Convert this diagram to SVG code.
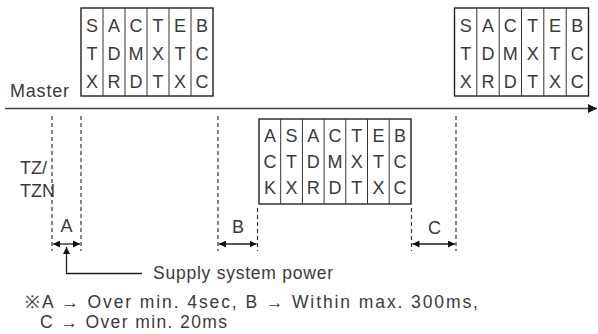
<svg xmlns="http://www.w3.org/2000/svg" width="598" height="334" viewBox="0 0 598 334">
<style>
text{font-family:"Liberation Sans",Arial,sans-serif;fill:#3a3a3a}
.bx{font-size:18px;text-anchor:middle}
.lb{font-size:18px}
.nt{font-size:17.5px}
.box{fill:#fff;stroke:#222;stroke-width:1.4}
.div{stroke:#333;stroke-width:1}
.dash{stroke:#333;stroke-width:1.2;stroke-dasharray:4 3;fill:none}
.ln{stroke:#222;stroke-width:1.3;fill:none}
</style>
<defs>
<marker id="ah" viewBox="0 0 10 10" refX="10" refY="5" markerWidth="7" markerHeight="7" markerUnits="userSpaceOnUse" orient="auto-start-reverse">
<path d="M0,0L10,5L0,10z" fill="#111"/>
</marker>
<marker id="ahb" viewBox="0 0 10 10" refX="10" refY="5" markerWidth="9" markerHeight="9" markerUnits="userSpaceOnUse" orient="auto">
<path d="M0,0L10,5L0,10z" fill="#111"/>
</marker>
</defs>

<g id="connectors">
<line x1="5" y1="108.5" x2="597" y2="108.5" stroke="#444" stroke-width="1.6" marker-end="url(#ahb)"/>
<line class="dash" x1="52" y1="116" x2="52" y2="251"/>
<line class="dash" x1="81" y1="116" x2="81" y2="251"/>
<line class="dash" x1="218" y1="116" x2="218" y2="251"/>
<line class="dash" x1="456" y1="116" x2="456" y2="251"/>
<line class="dash" x1="257.5" y1="208" x2="257.5" y2="251"/>
<line class="dash" x1="411.5" y1="208" x2="411.5" y2="251"/>
<line class="ln" x1="53" y1="244" x2="80" y2="244" marker-start="url(#ah)" marker-end="url(#ah)"/>
<line class="ln" x1="219" y1="244" x2="256.5" y2="244" marker-start="url(#ah)" marker-end="url(#ah)"/>
<line class="ln" x1="412.5" y1="244" x2="455" y2="244" marker-start="url(#ah)" marker-end="url(#ah)"/>
<polyline class="ln" points="142,273.5 66.5,273.5 66.5,247" marker-end="url(#ah)"/>
</g>

<g id="master-label"><text class="lb" x="10" y="97" textLength="59" lengthAdjust="spacing">Master</text></g>
<g id="tz-label"><text class="lb" x="20" y="174">TZ/</text><text class="lb" x="20" y="196.5">TZN</text></g>

<g id="master-frame-1">
<rect class="box" x="81" y="8" width="132" height="88"/>
<path class="div" d="M103,8V96M125,8V96M147,8V96M169,8V96M191,8V96"/>
<text class="bx" x="92" y="31.5">S</text><text class="bx" x="92" y="60">T</text><text class="bx" x="92" y="88">X</text>
<text class="bx" x="114" y="31.5">A</text><text class="bx" x="114" y="60">D</text><text class="bx" x="114" y="88">R</text>
<text class="bx" x="136" y="31.5">C</text><text class="bx" x="136" y="60">M</text><text class="bx" x="136" y="88">D</text>
<text class="bx" x="158" y="31.5">T</text><text class="bx" x="158" y="60">X</text><text class="bx" x="158" y="88">T</text>
<text class="bx" x="180" y="31.5">E</text><text class="bx" x="180" y="60">T</text><text class="bx" x="180" y="88">X</text>
<text class="bx" x="202" y="31.5">B</text><text class="bx" x="202" y="60">C</text><text class="bx" x="202" y="88">C</text>
</g>

<g id="master-frame-2">
<rect class="box" x="454.5" y="8" width="134" height="88"/>
<path class="div" d="M476.8,8V96M499.2,8V96M521.5,8V96M543.8,8V96M566.2,8V96"/>
<text class="bx" x="465.7" y="31.5">S</text><text class="bx" x="465.7" y="60">T</text><text class="bx" x="465.7" y="88">X</text>
<text class="bx" x="488" y="31.5">A</text><text class="bx" x="488" y="60">D</text><text class="bx" x="488" y="88">R</text>
<text class="bx" x="510.3" y="31.5">C</text><text class="bx" x="510.3" y="60">M</text><text class="bx" x="510.3" y="88">D</text>
<text class="bx" x="532.7" y="31.5">T</text><text class="bx" x="532.7" y="60">X</text><text class="bx" x="532.7" y="88">T</text>
<text class="bx" x="555" y="31.5">E</text><text class="bx" x="555" y="60">T</text><text class="bx" x="555" y="88">X</text>
<text class="bx" x="577.3" y="31.5">B</text><text class="bx" x="577.3" y="60">C</text><text class="bx" x="577.3" y="88">C</text>
</g>

<g id="slave-frame">
<rect class="box" x="259" y="119" width="152" height="85"/>
<path class="div" d="M280.7,119V204M302.4,119V204M324.1,119V204M345.8,119V204M367.5,119V204M389.2,119V204"/>
<text class="bx" x="269.9" y="141.5">A</text><text class="bx" x="269.9" y="167.5">C</text><text class="bx" x="269.9" y="193.5">K</text>
<text class="bx" x="291.6" y="141.5">S</text><text class="bx" x="291.6" y="167.5">T</text><text class="bx" x="291.6" y="193.5">X</text>
<text class="bx" x="313.3" y="141.5">A</text><text class="bx" x="313.3" y="167.5">D</text><text class="bx" x="313.3" y="193.5">R</text>
<text class="bx" x="335" y="141.5">C</text><text class="bx" x="335" y="167.5">M</text><text class="bx" x="335" y="193.5">D</text>
<text class="bx" x="356.7" y="141.5">T</text><text class="bx" x="356.7" y="167.5">X</text><text class="bx" x="356.7" y="193.5">T</text>
<text class="bx" x="378.4" y="141.5">E</text><text class="bx" x="378.4" y="167.5">T</text><text class="bx" x="378.4" y="193.5">X</text>
<text class="bx" x="400.1" y="141.5">B</text><text class="bx" x="400.1" y="167.5">C</text><text class="bx" x="400.1" y="193.5">C</text>
</g>

<g id="interval-labels">
<text class="lb" x="66.5" y="232" text-anchor="middle">A</text>
<text class="lb" x="238" y="233" text-anchor="middle">B</text>
<text class="lb" x="434.5" y="234" text-anchor="middle">C</text>
</g>

<g id="notes">
<text class="nt" x="153" y="278.5" textLength="180" lengthAdjust="spacing">Supply system power</text>
<text class="nt" x="25" y="307.5" textLength="453" lengthAdjust="spacing">※A → Over min. 4sec, B → Within max. 300ms,</text>
<text class="nt" x="40" y="327.5" textLength="187" lengthAdjust="spacing">C → Over min. 20ms</text>
</g>
</svg>
